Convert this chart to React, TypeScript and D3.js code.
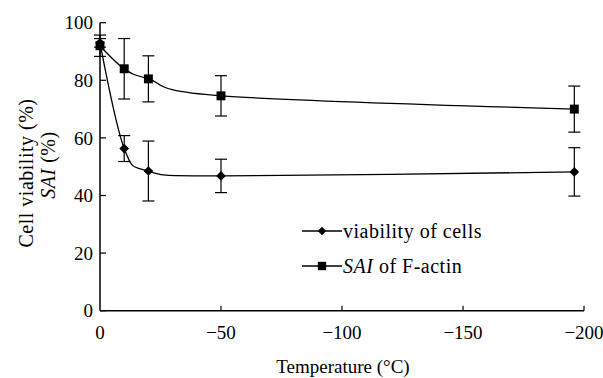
import { useEffect, useRef } from 'react';
import * as d3 from 'd3';

const temps = [0, -10, -20, -50, -196];
const viability = [93, 56.3, 48.5, 46.8, 48.2];
const viabilityErr = [1.5, 4.5, 10.4, 5.8, 8.4];
const sai = [92, 84, 80.5, 74.6, 70];
const saiErr = [3.7, 10.5, 8, 7, 8];
const xTicks = [0, -50, -100, -150, -200];
const yTicks = [0, 20, 40, 60, 80, 100];

const W = 603;
const H = 378;
const FONT = "'Liberation Serif', 'DejaVu Serif', serif";
const FS = 19;

export default function App() {
  const svgRef = useRef<SVGSVGElement>(null);

  useEffect(() => {
    const svg = d3.select(svgRef.current);
    svg.selectAll('*').remove();
    svg.attr('font-family', FONT).attr('font-size', FS);

    const x = d3.scaleLinear().domain([0, -200]).range([100, 584]);
    const y = d3.scaleLinear().domain([0, 100]).range([310.7, 22.7]);

    // axes
    svg.append('line')
      .attr('x1', x(0)).attr('x2', x(0))
      .attr('y1', y(0)).attr('y2', y(100))
      .attr('stroke', '#000').attr('stroke-width', 1.5);
    svg.append('line')
      .attr('x1', x(0)).attr('x2', x(-200))
      .attr('y1', y(0)).attr('y2', y(0))
      .attr('stroke', '#000').attr('stroke-width', 1.5);

    // y ticks (inside)
    yTicks.forEach(t => {
      svg.append('line')
        .attr('x1', x(0)).attr('x2', x(0) + 6)
        .attr('y1', y(t)).attr('y2', y(t))
        .attr('stroke', '#000').attr('stroke-width', 1.2);
      svg.append('text')
        .attr('x', 93).attr('y', y(t))
        .attr('dy', '0.35em')
        .attr('text-anchor', 'end')
        .text(t);
    });

    // x ticks (inside)
    xTicks.forEach(t => {
      if (t !== 0) {
        svg.append('line')
          .attr('x1', x(t)).attr('x2', x(t))
          .attr('y1', y(0)).attr('y2', y(0) - 5)
          .attr('stroke', '#000').attr('stroke-width', 1.2);
      }
      svg.append('text')
        .attr('x', x(t)).attr('y', 339)
        .attr('text-anchor', 'middle')
        .text(t === 0 ? '0' : '\u2212' + Math.abs(t));
    });

    // axis titles
    svg.append('text')
      .attr('x', 343).attr('y', 373)
      .attr('text-anchor', 'middle')
      .text('Temperature (\u00B0C)');

    svg.append('text')
      .attr('transform', 'translate(33,173) rotate(-90)')
      .attr('text-anchor', 'middle')
      .attr('font-size', 20)
      .attr('letter-spacing', 0.5)
      .text('Cell viability (%)');
    const yl2 = svg.append('text')
      .attr('transform', 'translate(55,165) rotate(-90)')
      .attr('text-anchor', 'middle')
      .attr('font-size', 20)
      .attr('letter-spacing', 0.5);
    yl2.append('tspan').attr('font-style', 'italic').text('SAI');
    yl2.append('tspan').text(' (%)');

    const line = d3.line<number>()
      .x((_, i) => x(temps[i]))
      .y(d => y(d))
      .curve(d3.curveCardinal.tension(0));

    const drawSeries = (vals: number[], errs: number[], marker: 'diamond' | 'square') => {
      svg.append('path')
        .datum(vals)
        .attr('fill', 'none')
        .attr('stroke', '#000')
        .attr('stroke-width', 1.3)
        .attr('d', line);

      vals.forEach((v, i) => {
        const cx = x(temps[i]);
        const top = y(v + errs[i]);
        const bot = y(v - errs[i]);
        svg.append('line')
          .attr('x1', cx).attr('x2', cx).attr('y1', top).attr('y2', bot)
          .attr('stroke', '#000').attr('stroke-width', 1.2);
        [top, bot].forEach(yy => {
          svg.append('line')
            .attr('x1', cx - 6).attr('x2', cx + 6).attr('y1', yy).attr('y2', yy)
            .attr('stroke', '#000').attr('stroke-width', 1.2);
        });
      });

      const sym = marker === 'diamond'
        ? d3.symbol(d3.symbolDiamond2, 60)
        : d3.symbol(d3.symbolSquare, 80);
      vals.forEach((v, i) => {
        svg.append('path')
          .attr('d', sym())
          .attr('transform', `translate(${x(temps[i])},${y(v)})`)
          .attr('fill', '#000');
      });
    };

    drawSeries(sai, saiErr, 'square');
    drawSeries(viability, viabilityErr, 'diamond');

    // legend
    const legend = [
      { marker: 'diamond', label: [{ t: 'viability of cells', i: false }], y: 231 },
      { marker: 'square', label: [{ t: 'SAI', i: true }, { t: ' of F-actin', i: false }], y: 266 },
    ];
    legend.forEach(l => {
      svg.append('line')
        .attr('x1', 302).attr('x2', 342).attr('y1', l.y).attr('y2', l.y)
        .attr('stroke', '#000').attr('stroke-width', 1.3);
      const sym = l.marker === 'diamond'
        ? d3.symbol(d3.symbolDiamond2, 45)
        : d3.symbol(d3.symbolSquare, 70);
      svg.append('path')
        .attr('d', sym())
        .attr('transform', `translate(322,${l.y})`)
        .attr('fill', '#000');
      const tx = svg.append('text')
        .attr('x', 343).attr('y', l.y).attr('dy', '0.35em')
        .attr('font-size', 20)
        .attr('letter-spacing', 0.5);
      l.label.forEach(p => {
        tx.append('tspan').attr('font-style', p.i ? 'italic' : 'normal').text(p.t);
      });
    });
  }, []);

  return (
    <svg
      ref={svgRef}
      width={W}
      height={H}
      style={{ position: 'absolute', left: 0, top: 0, background: '#fff' }}
    />
  );
}
